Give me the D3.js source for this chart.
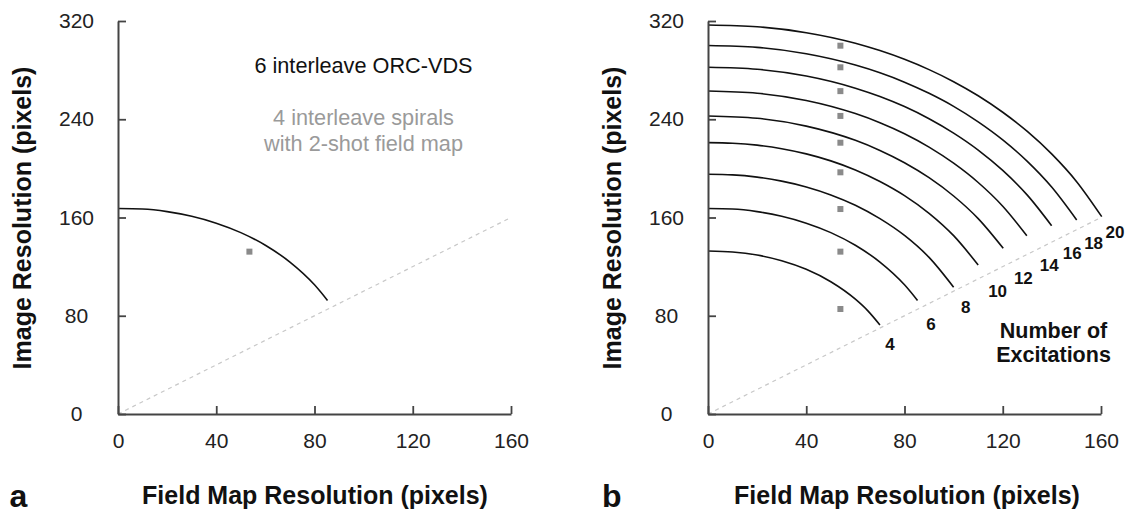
<!DOCTYPE html>
<html><head><meta charset="utf-8">
<script src="https://cdn.jsdelivr.net/npm/d3@7"></script>
<style>
body{margin:0;background:#fff}
svg{display:block}
text{font-family:"Liberation Sans",Arial,Helvetica,sans-serif}
</style>
</head><body>
<svg id="chart" width="1125" height="514"></svg>
<script>
// ---- data ----
const xTicks = [0, 40, 80, 120, 160];
const yTicks = [0, 80, 160, 240, 320];
const excitations = [4, 6, 8, 10, 12, 14, 16, 18, 20];

// ORC-VDS constant-excitation curves: [field map res, image res]
const curve4  = [[0,132.7],[10,131.9],[20,129.4],[30,124.8],[40,117.8],[50,107.7],[60,93.5],[65,84.2],[70,72.5]];
const curve6  = [[0,167.3],[10,166.9],[20,164.8],[30,161.0],[40,155.4],[50,147.7],[60,137.4],[70,123.7],[80,105.2],[85.3,92.5]];
const curve8  = [[0,195.2],[10,194.7],[20,192.9],[30,189.6],[40,184.9],[50,178.4],[60,170.0],[70,159.1],[80,145.4],[90,127.5],[100,103.2]];
const curve10 = [[0,221],[10,220.5],[20,218.9],[30,216.0],[40,211.8],[50,206.1],[60,198.7],[70,189.3],[80,177.8],[90,163.4],[100,145.2],[110,121.3]];
const curve12 = [[0,242.7],[20,240.8],[40,234.4],[60,222.8],[70,214.6],[80,204.6],[90,192.4],[100,177.5],[110,159.1],[120.2,134.9]];
const curve14 = [[0,263],[20,261.2],[40,255.3],[60,244.6],[70,237.2],[80,228.2],[90,217.3],[100,204.2],[110,188.5],[120,169.2],[129.8,145.2]];
const curve16 = [[0,282.3],[20,280.7],[40,275.2],[60,265.3],[70,258.5],[80,250.3],[90,240.4],[100,228.7],[110,214.9],[120,198.3],[130,178.2],[139.9,153.3]];
const curve18 = [[0,300],[20,298.5],[40,293.3],[60,284.1],[70,277.8],[80,270.2],[90,261.1],[100,250.5],[110,237.9],[120,223.2],[130,205.7],[140,184.6],[150.1,158]];
const curve20 = [[0,316.8],[20,315.3],[40,310.5],[60,301.9],[70,295.9],[80,288.8],[90,280.4],[100,270.6],[110,259.1],[120,245.7],[130,230.1],[140,211.6],[150,189.4],[160.3,160.7]];
const rightCurves = [curve4, curve6, curve8, curve10, curve12, curve14, curve16, curve18, curve20];

// panel a: 6-interleave ORC-VDS curve and 4-interleave spiral point
const leftCurve = curve6;
const leftSpiral = [[53.5, 132.2]];

// panel b: spiral points (field map res 54)
const spiralF = 53.9;
const spiralR = [85.5, 132.2, 166.9, 196.8, 220.9, 242.7, 262.9, 282.3, 299.9];

// field-map resolution along the diagonal where each excitation label sits
const labelF = [74.1, 90.8, 104.9, 117.9, 128.4, 138.9, 148.3, 157, 165.7];

const diagonal = [[0,0],[160,160]];

// ---- drawing ----
const svg = d3.select("#chart");
const W = 393, TOP = 21, BOT = 414;

function panel(x0) {
  const x = d3.scaleLinear().domain([0,160]).range([x0, x0 + W]);
  const y = d3.scaleLinear().domain([0,320]).range([BOT, TOP]);
  const g = svg.append("g");
  const line = d3.line().x(d => x(d[0])).y(d => y(d[1]));
  g.append("path").datum(diagonal).attr("d", line)
    .attr("fill","none").attr("stroke","#c8c8c8").attr("stroke-width",1.2)
    .attr("stroke-dasharray","4,4");
  return {x, y, g, line};
}

function axes(p) {
  const {x, y, g} = p;
  const ax = g.append("g").attr("transform", `translate(0,${BOT})`)
    .call(d3.axisBottom(x).tickValues(xTicks).tickSize(-8).tickSizeOuter(0).tickPadding(19));
  const ay = g.append("g").attr("transform", `translate(${x(0)},0)`)
    .call(d3.axisLeft(y).tickValues(yTicks).tickSize(-8).tickSizeOuter(0));
  ay.selectAll(".tick text").attr("text-anchor","middle").attr("x",-41.5);
  [ax, ay].forEach(a => {
    a.attr("font-size",21).attr("font-family",'"Liberation Sans",Arial,sans-serif');
    a.selectAll("path.domain").attr("stroke","#444").attr("stroke-width",2);
    a.selectAll(".tick line").attr("stroke","#444").attr("stroke-width",1.8);
    a.selectAll(".tick text").attr("fill","#222");
  });
}

function titles(cx, yTitleX, letter, letterX) {
  svg.append("text").attr("x", cx).attr("y", 503.5).attr("text-anchor","middle")
    .attr("font-size",25).attr("font-weight","bold").attr("fill","#111")
    .text("Field Map Resolution (pixels)");
  svg.append("text").attr("transform", `translate(${yTitleX},218) rotate(-90)`)
    .attr("text-anchor","middle").attr("font-size",25).attr("font-weight","bold").attr("fill","#111")
    .text("Image Resolution (pixels)");
  svg.append("text").attr("x", letterX).attr("y", 507).attr("font-size",32)
    .attr("font-weight","bold").attr("fill","#111").text(letter);
}

// Panel a
const pa = panel(118);
pa.g.append("path").datum(leftCurve).attr("d", pa.line.curve(d3.curveMonotoneX))
  .attr("fill","none").attr("stroke","#111").attr("stroke-width",1.6);
pa.g.selectAll("rect.sp").data(leftSpiral).join("rect").attr("class","sp")
  .attr("x", d => pa.x(d[0]) - 3).attr("y", d => pa.y(d[1]) - 3)
  .attr("width",6).attr("height",6).attr("fill","#8a8a8a");
axes(pa);
svg.append("text").attr("x",363.5).attr("y",73.3).attr("text-anchor","middle")
  .attr("font-size",21.7).attr("fill","#111").text("6 interleave ORC-VDS");
svg.append("text").attr("x",363.5).attr("y",125).attr("text-anchor","middle")
  .attr("font-size",21.7).attr("fill","#9a9a9a").text("4 interleave spirals");
svg.append("text").attr("x",363.5).attr("y",150.5).attr("text-anchor","middle")
  .attr("font-size",21.7).attr("fill","#9a9a9a").text("with 2-shot field map");
titles(315, 30.5, "a", 9.5);

// Panel b
const pb = panel(708);
const lineB = pb.line.curve(d3.curveMonotoneX);
pb.g.selectAll("path.c").data(rightCurves).join("path").attr("class","c")
  .attr("d", lineB).attr("fill","none").attr("stroke","#111").attr("stroke-width",1.6);
pb.g.selectAll("rect.sp").data(spiralR).join("rect").attr("class","sp")
  .attr("x", pb.x(spiralF) - 3).attr("y", d => pb.y(d) - 3)
  .attr("width",6).attr("height",6).attr("fill","#8a8a8a");
axes(pb);
pb.g.selectAll("text.n").data(excitations).join("text").attr("class","n")
  .attr("x", (d,i) => pb.x(labelF[i]))
  .attr("y", (d,i) => pb.y(labelF[i]) + 27.5)
  .attr("text-anchor","middle").attr("font-size",17).attr("font-weight","bold").attr("fill","#111")
  .text(d => d);
svg.append("text").attr("x",1053.5).attr("y",337.5).attr("text-anchor","middle")
  .attr("font-size",21.5).attr("font-weight","bold").attr("fill","#111").text("Number of");
svg.append("text").attr("x",1053.5).attr("y",361.7).attr("text-anchor","middle")
  .attr("font-size",21.5).attr("font-weight","bold").attr("fill","#111").text("Excitations");
titles(907, 620.5, "b", 602);
</script>
</body></html>
